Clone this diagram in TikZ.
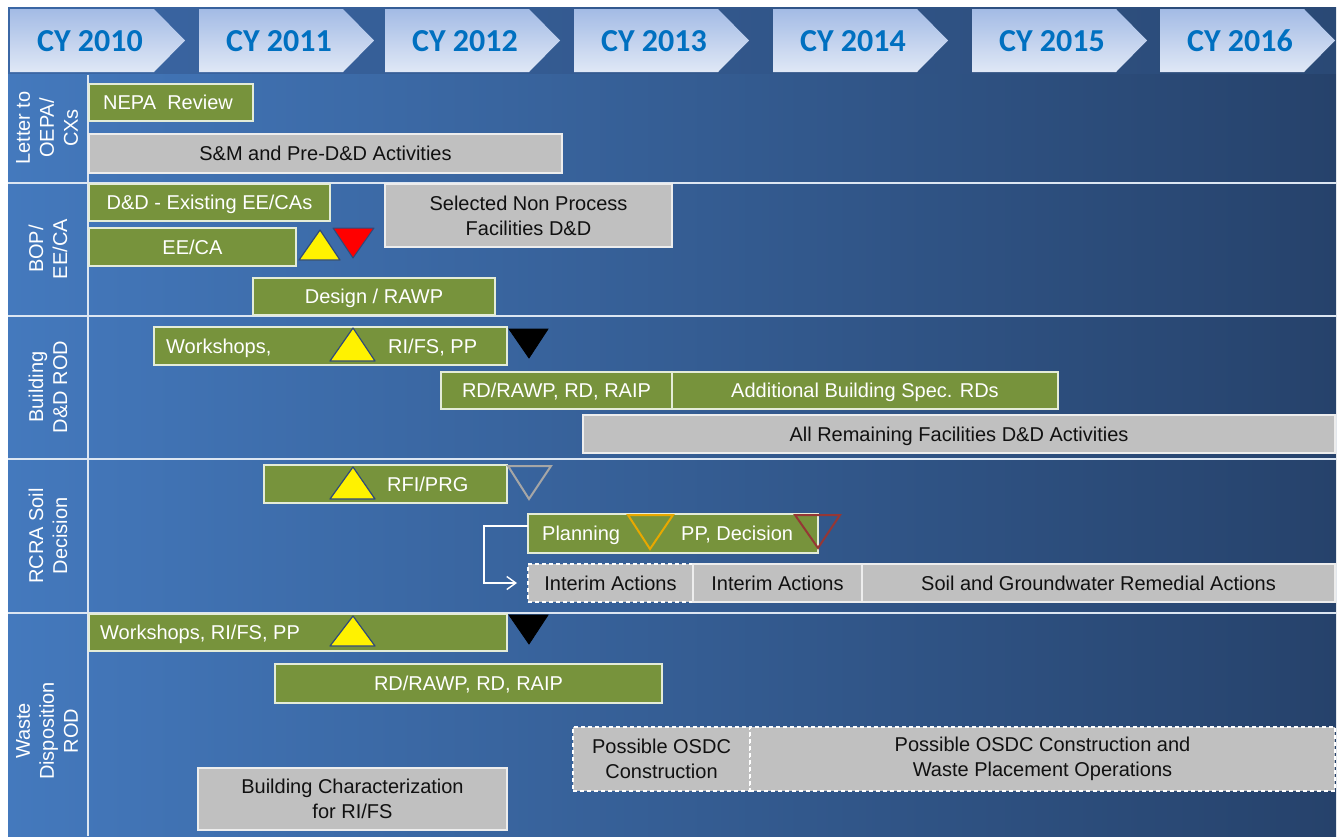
\documentclass[tikz,border=0pt]{standalone}
\usepackage{fontspec}
\setmainfont{Liberation Sans}
\newfontfamily\cyfont{Carlito}
\usetikzlibrary{arrows.meta}
\definecolor{grn}{HTML}{77933C}
\definecolor{grnedge}{HTML}{E4ECD8}
\definecolor{gry}{HTML}{C0C0C0}
\definecolor{gryedge}{HTML}{EDEDED}
\definecolor{cyblue}{HTML}{0070C0}
\definecolor{bgl}{HTML}{4479BD}
\definecolor{bgr}{HTML}{26426B}
\definecolor{hdl}{HTML}{3B67A5}
\definecolor{hdr}{HTML}{2A4975}
\definecolor{chtop}{HTML}{A3BBE5}
\definecolor{chbot}{HTML}{E0E8F6}
\definecolor{sepc}{HTML}{DCE6F2}
\definecolor{triedge}{HTML}{2F4A7A}
\definecolor{hollowgray}{HTML}{A6A6A6}
\definecolor{hollowor}{HTML}{E8A800}
\definecolor{hollowred}{HTML}{953735}
\definecolor{txtdark}{HTML}{111111}
\newcommand\mkbox[7]{\node[#1, anchor=north west, minimum width={(#5)-(#3)}, minimum height={(#6)-(#4)}] (#2) at (#3,#4) {#7};}
\tikzset{
  bfont/.style={font=\fontsize{20}{25}\selectfont},
  gbar/.style={bfont, fill=grn, draw=grnedge, line width=1.2pt, text=white, inner sep=0pt, outer sep=0pt, align=center},
  gybar/.style={bfont, fill=gry, draw=gryedge, line width=1.2pt, text=txtdark, inner sep=0pt, outer sep=0pt, align=center},
  one/.style={text height=14.3pt, text depth=0pt},
  wt/.style={bfont, text=white, inner sep=0pt},
  dashedbox/.style={draw=white, dash pattern=on 4pt off 3pt},
  lab/.style={font=\fontsize{20}{24}\selectfont, text=white, rotate=90, align=center, inner sep=0pt},
  cy/.style={font=\cyfont\bfseries\fontsize{32}{36}\selectfont, text=cyblue, inner sep=0pt},
  sepline/.style={draw=sepc, line width=2pt},
  ytri/.style={fill=yellow, draw=triedge, line width=1.2pt, line join=round},
  rtri/.style={fill=red, draw=triedge, line width=1pt, line join=round},
  ktri/.style={fill=black, draw=black, line width=0.8pt},
  htri/.style={draw=#1, line width=2pt, line join=miter},
  conn/.style={draw=white, line width=1.4pt, -{Straight Barb[length=9pt,width=13pt,line width=1.4pt]}}
}
\begin{document}
\begin{tikzpicture}[x=1pt,y=-1pt]
\useasboundingbox (0,0) rectangle (1338,836);
\fill[white] (0,0) rectangle (1338,836);
% header band
\shade[left color=hdl, right color=hdr] (8,7) rectangle (1336,73);
\foreach \x/\yr in {10/2010,199/2011,385/2012,574/2013,773/2014,972/2015,1160/2016}{
  \shade[top color=chtop, bottom color=chbot] (\x,9) -- (\x+144,9) -- (\x+175,40.5) -- (\x+144,72) -- (\x,72) -- cycle;
  \node[cy] (cy\yr) at (\x+80,41) {CY \yr};
}
% body
\shade[left color=bgl, right color=bgr] (8,74.5) rectangle (1336,836);
\draw[sepline] (8,183) -- (1336,183);
\draw[sepline] (8,316) -- (1336,316);
\draw[sepline] (8,459) -- (1336,459);
\draw[sepline] (8,613) -- (1336,613);
\draw[sepline] (88,74.5) -- (88,836);
% row labels
\node[lab] (l1) at (47,128) {Letter to\\OEPA/\\CXs};
\node[lab] (l2) at (48,249) {BOP/\\EE/CA};
\node[lab] (l3) at (48,387) {Building\\D\&D ROD};
\node[lab] (l4) at (48,536) {RCRA Soil\\Decision};
\node[lab] (l5) at (47,731) {Waste\\Disposition\\ROD};
% row 1
\mkbox{gbar}{nepa}{89}{84}{253}{121}{}
\node[wt,one,anchor=west] (nepat) at (103,102.5) {NEPA\ \ Review};
\mkbox{gybar,one}{sm}{89}{134}{562}{173}{S\&M and Pre-D\&D Activities}
% row 2
\mkbox{gbar,one}{dd}{89}{184}{330}{221}{D\&D - Existing EE/CAs}
\mkbox{gybar}{snp}{385}{184}{672}{247}{Selected Non Process\\Facilities D\&D}
\mkbox{gbar,one}{eeca}{89}{228}{296}{266}{EE/CA}
\draw[ytri] (299,260) -- (320,230) -- (340,260) -- cycle;
\draw[rtri] (333,228) -- (374,228) -- (353,258) -- cycle;
\mkbox{gbar,one}{rawp}{253}{278}{495}{315}{Design / RAWP}
% row 3
\mkbox{gbar}{ws3}{154}{327}{507}{365}{}
\node[wt,one,anchor=west] (ws3t) at (166,346) {Workshops,};
\node[wt,one,anchor=west] (ws3u) at (388,346) {RI/FS, PP};
\draw[ytri] (330,361) -- (353,328) -- (375,361) -- cycle;
\draw[ktri] (509,329) -- (548,329) -- (529,358) -- cycle;
\mkbox{gbar,one}{rd3}{441}{372}{672}{409}{RD/RAWP, RD, RAIP}
\mkbox{gbar,one}{abs}{672}{372}{1058}{409}{Additional Building Spec. RDs}
\mkbox{gybar,one}{arf}{583}{415}{1335}{453}{All Remaining Facilities D\&D Activities}
% row 4
\mkbox{gbar}{rfi}{264}{465}{507}{503}{}
\node[wt,one,anchor=west] (rfit) at (387,484) {RFI/PRG};
\draw[ytri] (330,499) -- (353,467) -- (375,499) -- cycle;
\draw[htri=hollowgray] (508,466) -- (551,466) -- (529,499) -- cycle;
\mkbox{gbar}{plan}{528}{514}{818}{553}{}
\node[wt,one,anchor=west] (plant) at (542,533.5) {Planning};
\node[wt,one,anchor=west] (ppdt) at (681,533.5) {PP, Decision};
\draw[htri=hollowor] (628,515) -- (673,515) -- (650,549) -- cycle;
\draw[htri=hollowred] (795,515) -- (840,515) -- (818,548) -- cycle;
\mkbox{gybar,one,dashedbox}{ia1}{528}{564}{693}{602}{Interim Actions}
\mkbox{gybar,one}{ia2}{693}{564}{862}{602}{Interim Actions}
\mkbox{gybar,one}{sgr}{862}{564}{1335}{602}{Soil and Groundwater Remedial Actions}
\coordinate (k) at (484,526);
\draw[conn, shorten >=11pt] (plan.west |- k) -- (k) |- (ia1.west);
% row 5
\mkbox{gbar}{ws5}{89}{614}{507}{651}{}
\node[wt,one,anchor=west] (ws5t) at (100,632.5) {Workshops, RI/FS, PP};
\draw[ytri] (330,646) -- (353,616) -- (375,646) -- cycle;
\draw[ktri] (509,615) -- (548,615) -- (529,644) -- cycle;
\mkbox{gbar,one}{rd5}{275}{664}{662}{703}{RD/RAWP, RD, RAIP}
\mkbox{gybar,dashedbox}{osdca}{573}{727}{750}{791}{Possible OSDC\\Construction}
\mkbox{gybar,dashedbox}{osdcb}{750}{727}{1335}{791}{Possible OSDC Construction and\\Waste Placement Operations}
\mkbox{gybar}{bch}{198}{768}{507}{830}{Building Characterization\\for RI/FS}
\end{tikzpicture}
\end{document}
